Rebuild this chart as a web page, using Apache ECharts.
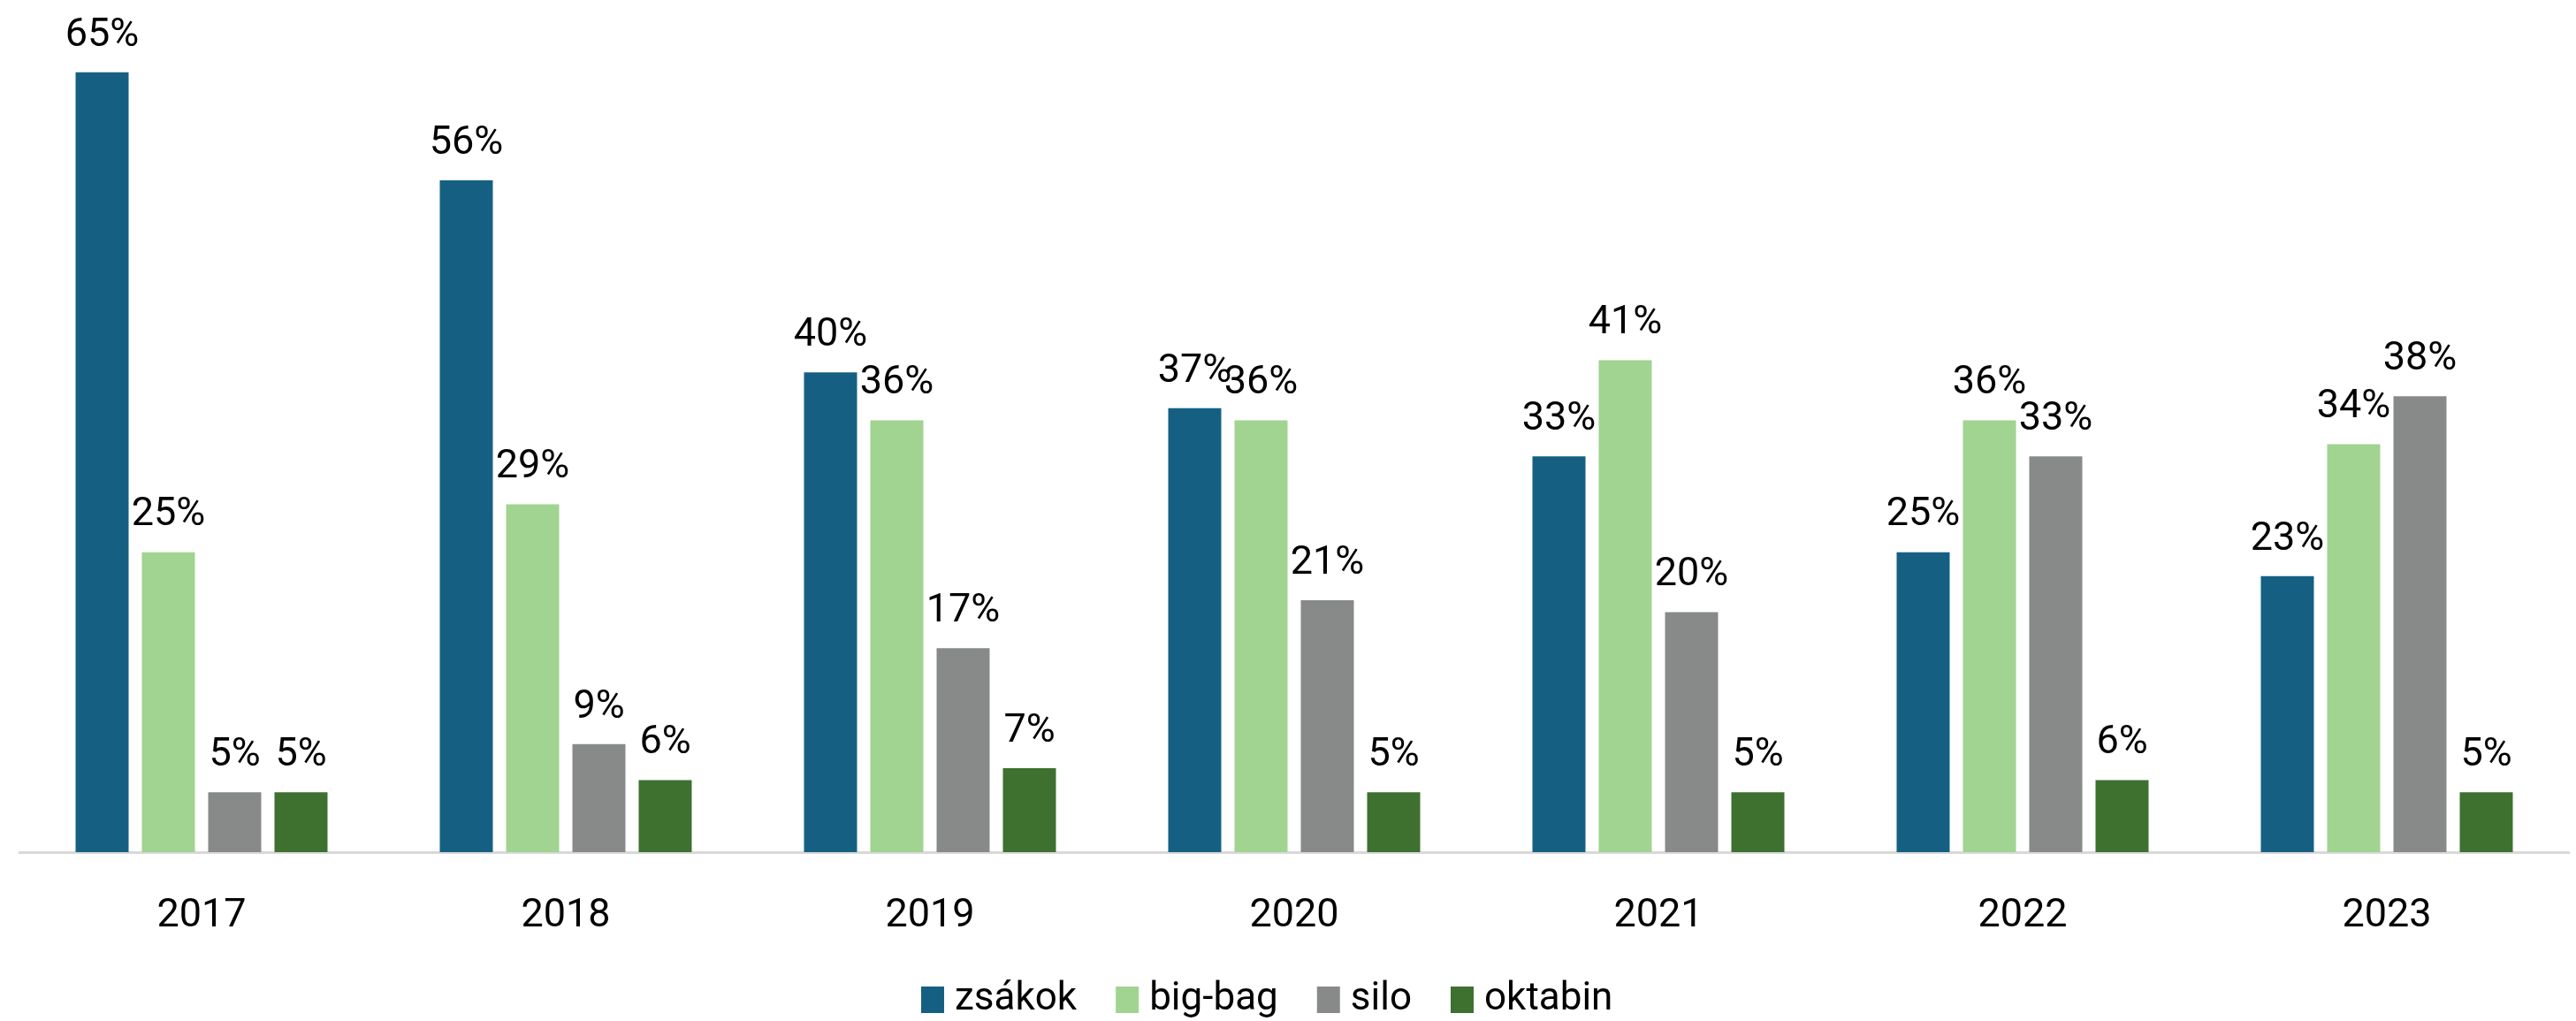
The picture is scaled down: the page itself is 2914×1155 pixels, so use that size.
<!DOCTYPE html>
<html><head><meta charset="utf-8">
<script src="https://cdn.jsdelivr.net/npm/echarts@6/dist/echarts.min.js"></script>
<style>html,body{margin:0;padding:0;background:#fff}#c{width:2914px;height:1155px}</style>
</head><body><div id="c"></div>
<script>
const years = ['2017','2018','2019','2020','2021','2022','2023'];
const zsakok = [65,56,40,37,33,25,23];
const bigBag = [25,29,36,36,41,36,34];
const silo = [5,9,17,21,20,33,38];
const oktabin = [5,6,7,5,5,6,5];
const names = ['zsákok','big-bag','silo','oktabin'];
const colors = ['#156082','#a0d490','#878a89','#3e7030'];
const font = 'Roboto';
const chart = echarts.init(document.getElementById('c'));
const mk = (name, data, color) => ({
  name, type:'bar', data, barWidth:60, barGap:'25%',
  itemStyle:{color},
  label:{show:true, position:'top', distance:19, formatter:'{c}%', color:'#000', fontFamily:font, fontSize:45}
});
chart.setOption({
  animation:false,
  grid:{left:22, right:8, top:14, bottom:191},
  legend:{left:1037, top:1104, itemWidth:26, itemHeight:30, itemGap:44,
    icon:'rect',
    textStyle:{color:'#000', fontFamily:font, fontSize:44, padding:[0,0,0,7]},
    data:names},
  xAxis:{type:'category', data:years,
    axisLine:{lineStyle:{color:'#d9d9d9', width:3}},
    axisTick:{show:false},
    axisLabel:{color:'#000', fontFamily:font, fontSize:45, margin:50}},
  yAxis:{type:'value', min:0, max:70, show:false, splitLine:{show:false}},
  series:[mk(names[0],zsakok,colors[0]), mk(names[1],bigBag,colors[1]), mk(names[2],silo,colors[2]), mk(names[3],oktabin,colors[3])]
});
</script></body></html>
